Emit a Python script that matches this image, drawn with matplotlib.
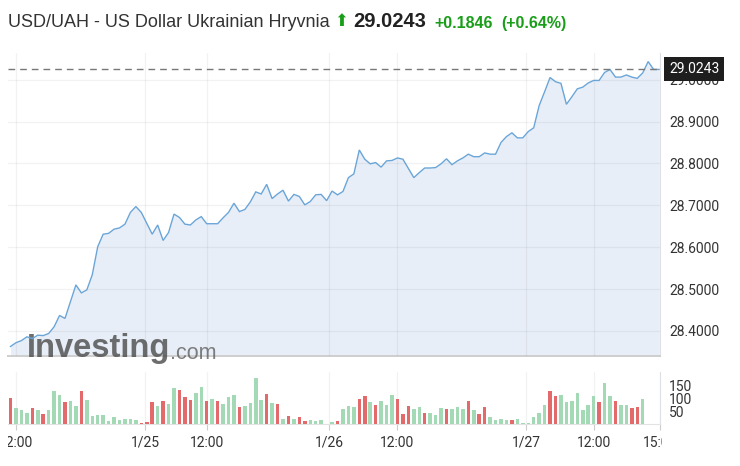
import matplotlib
matplotlib.use("Agg")
import matplotlib.pyplot as plt
import numpy as np
from matplotlib.transforms import Bbox, TransformedBbox

# ---------------- data ----------------
title_text = "USD/UAH - US Dollar Ukrainian Hryvnia"
last_price_text = "29.0243"
change_text = "+0.1846"
change_pct_text = "(+0.64%)"
last_price = 29.0243

price = [
    28.363, 28.372, 28.377, 28.386, 28.382, 28.390, 28.389, 28.394, 28.410, 28.437,
    28.430, 28.470, 28.510, 28.491, 28.498, 28.534, 28.601, 28.631, 28.633, 28.643,
    28.646, 28.655, 28.683, 28.697, 28.683, 28.657, 28.631, 28.653, 28.616, 28.635,
    28.679, 28.671, 28.655, 28.653, 28.665, 28.673, 28.656, 28.656, 28.656, 28.670,
    28.683, 28.705, 28.685, 28.690, 28.708, 28.732, 28.727, 28.750, 28.716, 28.727,
    28.736, 28.710, 28.726, 28.721, 28.701, 28.709, 28.725, 28.726, 28.711, 28.734,
    28.725, 28.733, 28.766, 28.775, 28.832, 28.810, 28.799, 28.802, 28.791, 28.806,
    28.807, 28.813, 28.810, 28.788, 28.766, 28.778, 28.789, 28.789, 28.790, 28.799,
    28.811, 28.797, 28.806, 28.813, 28.822, 28.816, 28.816, 28.825, 28.822, 28.822,
    28.850, 28.864, 28.873, 28.861, 28.861, 28.876, 28.885, 28.938, 28.971, 29.005,
    28.995, 28.991, 28.941, 28.959, 28.978, 28.982, 28.992, 28.998, 28.998, 29.017,
    29.024, 29.006, 29.006, 29.011, 29.006, 29.003, 29.016, 29.043, 29.0243, 29.0243,
]

volume = [
    101, 62, 53, 44, 62, 53, 39, 53, 127, 113,
    86, 90, 72, 127, 95, 33, 35, 35, 12, 26,
    16, 21, 21, 17, 4, 8, 86, 72, 90, 77,
    140, 131, 104, 95, 122, 146, 90, 99, 90, 77,
    104, 113, 68, 72, 81, 178, 95, 117, 81, 77,
    21, 31, 21, 26, 12, 16, 12, 17, 0, 9,
    10, 57, 70, 66, 98, 108, 85, 75, 88, 75,
    112, 98, 38, 70, 57, 66, 43, 43, 34, 61,
    57, 57, 66, 57, 90, 53, 38, 66, 29, 16,
    21, 16, 16, 21, 3, 3, 29, 43, 75, 130,
    108, 112, 85, 88, 121, 53, 75, 108, 85, 162,
    108, 88, 75, 75, 61, 66, 98,
]

volume_dir = list(
    "rgggrgrggg"
    "rggrgggggg"
    "ggggrrrgrg"
    "grrrggrgrg"
    "ggrggggrgr"
    "grgrrgggg"
    "grgggrrgrg"
    "ggrrrggrgg"
    "grgggrgrrg"
    "gggrgggggg"
    "rrgggggggrg"
    "grggrrg"
)

xtick_pos = [1.01, 24.68, 36.06, 58.44, 70.92, 94.59, 107.06, 119.17]
xtick_labels = ["12:00", "1/25", "12:00", "1/26", "12:00", "1/27", "12:00", "15:00"]
price_ticks = [28.4, 28.5, 28.6, 28.7, 28.8, 28.9, 29.0]
volume_ticks = [50, 100, 150]

# ---------------- styling ----------------
W, H = 740, 466
LINE = "#6aa5d8"
FILL = "#e8eef7"
GREEN_BAR = "#a3d9b5"
RED_BAR = "#e36a6a"
GREEN_TXT = "#1a9e1a"
TXT = "#333333"

plt.rcParams["font.family"] = ["Roboto", "DejaVu Sans"]

fig = plt.figure(figsize=(W / 100, H / 100), dpi=100)
fig.patch.set_facecolor("white")


def fx(px):
    return px / W


def fy(py):
    return 1 - py / H


ax = fig.add_axes([fx(8), fy(356), fx(660) - fx(8), fy(53) - fy(356)])
axv = fig.add_axes([fx(8), fy(424), fx(660) - fx(8), fy(372) - fy(424)], sharex=ax)

# ---- price panel ----
xi = np.arange(len(price))
ax.fill_between(xi, price, 28.0, color=FILL, lw=0, zorder=1)
ax.plot(xi, price, color=LINE, lw=1.0, zorder=4, solid_joinstyle="miter")
ax.axhline(last_price, color="#777777", lw=1.0, dashes=(4.8, 3.6), zorder=5)
ax.set_ylim(28.3403, 29.0635)
ax.set_xlim(-0.46, 119.17)
ax.set_axisbelow(False)
ax.set_xticks(xtick_pos)
ax.set_yticks(price_ticks)
ax.set_yticklabels([f"{v:.4f}" for v in price_ticks])
ax.yaxis.tick_right()
ax.tick_params(axis="x", length=0, labelbottom=False)
ax.tick_params(axis="y", length=0, pad=6.5, labelsize=10, labelcolor=TXT)
ax.grid(True, color="black", alpha=0.05, lw=0.9)
for s in ["top", "left"]:
    ax.spines[s].set_visible(False)
ax.spines["right"].set_color("#dde1e6")
ax.spines["bottom"].set_color("#cfcfcf")
ax.spines["bottom"].set_linewidth(1.4)

# price label box
ax.annotate(last_price_text, xy=(1.0, last_price), xycoords=("axes fraction", "data"),
            xytext=(9, 0), textcoords="offset pixels", ha="left", va="center",
            fontsize=10, color="white", annotation_clip=False, zorder=10,
            bbox=dict(boxstyle="square,pad=0.36", fc="#1e1e1e", ec="none"))

# watermark
wm = ax.text(fx(27), fy(357), "Investing", transform=fig.transFigure,
             fontsize=23.5, fontweight="bold", family="Liberation Sans",
             color="#4a4a4a", alpha=0.8, va="baseline", ha="left", zorder=3, clip_on=False)
ax.annotate(".com", xy=(1, 0), xycoords=wm, xytext=(0, 0), textcoords="offset points",
            fontsize=15.5, family="Liberation Sans", color="#606060", alpha=0.8,
            va="bottom", ha="left", zorder=3, annotation_clip=False)

# ---- volume panel ----
xv = np.arange(len(volume))
colors = [GREEN_BAR if d == "g" else RED_BAR for d in volume_dir]
axv.bar(xv, volume, width=0.64, color=colors, lw=0, zorder=3)
axv.set_ylim(0, 203)
axv.set_yticks(volume_ticks)
axv.yaxis.tick_right()
axv.tick_params(axis="y", length=0, pad=6.5, labelsize=10, labelcolor=TXT)
axv.set_xticks(xtick_pos)
axv.set_xticklabels(xtick_labels)
axv.tick_params(axis="x", length=4.3, width=0.8, color="#cccccc", pad=4.0,
                labelsize=10, labelcolor=TXT)
axv.grid(True, axis="x", color="black", alpha=0.05, lw=0.9)
axv.set_axisbelow(True)
for s in ["top", "left"]:
    axv.spines[s].set_visible(False)
axv.spines["right"].set_color("#dde1e6")
axv.spines["bottom"].set_color("#e3e3e3")

# ---- title ----
t1 = fig.text(fx(8), fy(27), title_text, fontsize=13.0, color=TXT,
              family="Liberation Sans", va="baseline", ha="left")
t2 = ax.annotate("\u2b06", xy=(1, 0), xycoords=t1, xytext=(3.5, 0.5), textcoords="offset points",
                 fontsize=12, color=GREEN_TXT, family="DejaVu Sans", va="bottom", ha="left",
                 annotation_clip=False)
t3 = ax.annotate(last_price_text, xy=(1, 0), xycoords=t2, xytext=(3.5, -0.5), textcoords="offset points",
                 fontsize=14.5, fontweight="bold", color="#222222", family="Liberation Sans",
                 va="bottom", ha="left", annotation_clip=False)
t4 = ax.annotate(change_text, xy=(1, 0), xycoords=t3, xytext=(6, 0), textcoords="offset points",
                 fontsize=11.5, fontweight="bold", color=GREEN_TXT, family="Liberation Sans",
                 va="bottom", ha="left", annotation_clip=False)
t5 = ax.annotate(change_pct_text, xy=(1, 0), xycoords=t4, xytext=(6, 0), textcoords="offset points",
                 fontsize=11.5, fontweight="bold", color=GREEN_TXT, family="Liberation Sans",
                 va="bottom", ha="left", annotation_clip=False)

fig.canvas.draw()
clip = TransformedBbox(Bbox.from_extents(fx(8), 0, fx(662), 1), fig.transFigure)
for lab in axv.get_xticklabels():
    lab.set_clip_on(True)
    lab.set_clip_box(clip)

fig.savefig("out.png", dpi=100, facecolor="white")
